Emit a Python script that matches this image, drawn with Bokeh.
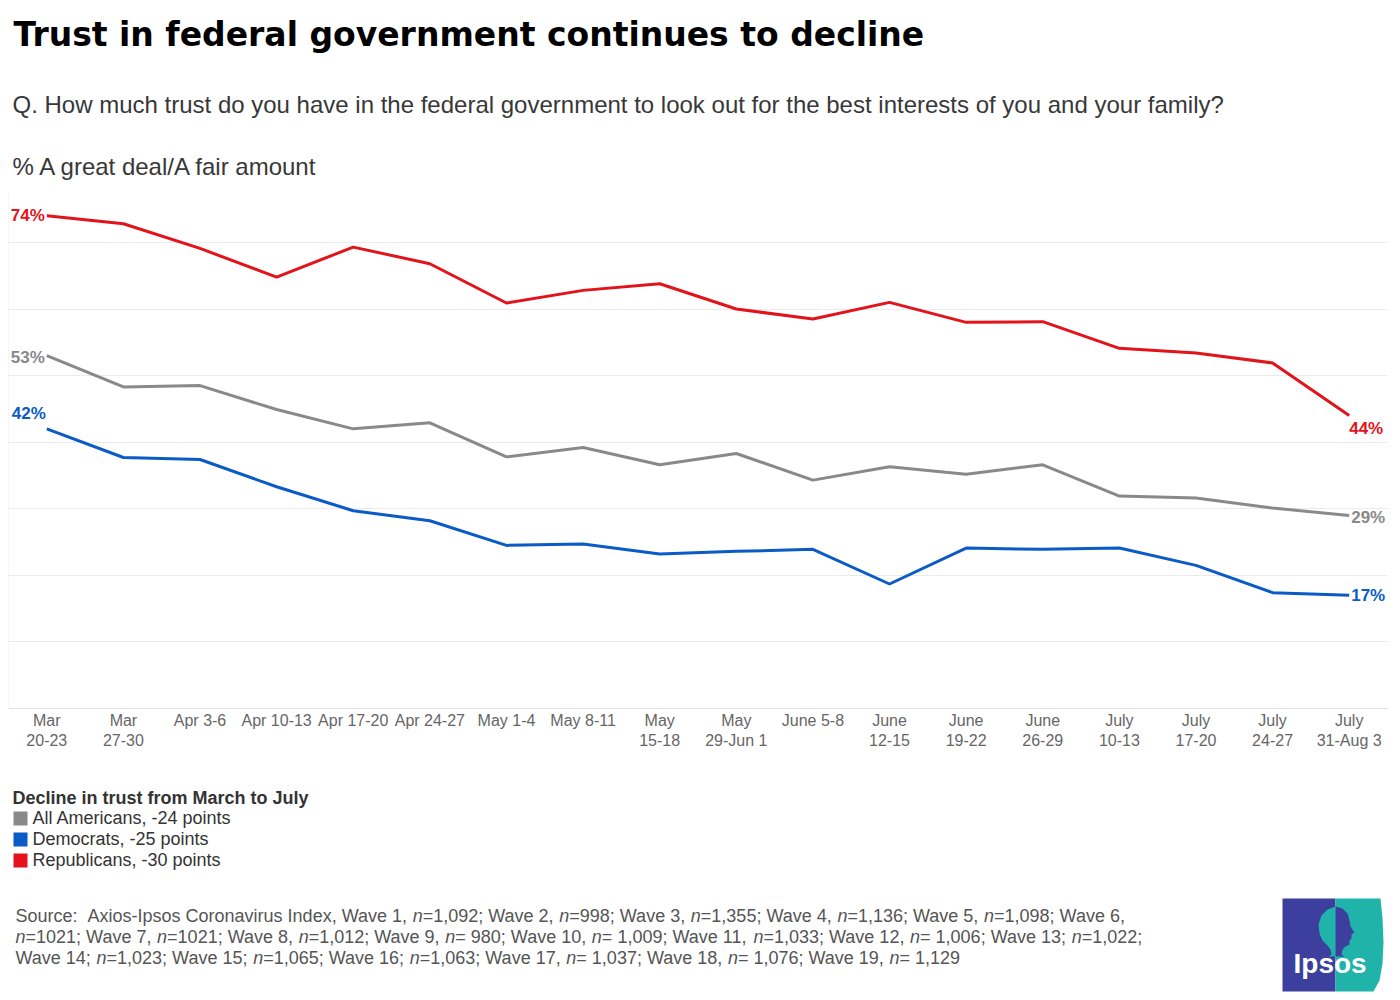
import re
from bokeh.plotting import figure
from bokeh.layouts import column
from bokeh.models import Range1d, FixedTicker, Span
from bokeh.core.properties import value
from bokeh.embed import file_html
from bokeh.resources import INLINE

# ---------------- data ----------------
waves = ["Mar\n20-23", "Mar\n27-30", "Apr 3-6", "Apr 10-13", "Apr 17-20", "Apr 24-27",
         "May 1-4", "May 8-11", "May\n15-18", "May\n29-Jun 1", "June 5-8", "June\n12-15",
         "June\n19-22", "June\n26-29", "July\n10-13", "July\n17-20", "July\n24-27",
         "July\n31-Aug 3"]
republicans = [74, 72.8, 69.1, 64.8, 69.3, 66.8, 60.9, 62.8, 63.8, 60.0, 58.5, 61.0,
               58.0, 58.1, 54.1, 53.4, 51.9, 44]
all_americans = [53, 48.3, 48.5, 44.9, 42.0, 42.9, 37.8, 39.2, 36.6, 38.3, 34.3, 36.3,
                 35.2, 36.6, 31.9, 31.6, 30.1, 29]
democrats = [42, 37.7, 37.4, 33.3, 29.7, 28.2, 24.5, 24.7, 23.2, 23.6, 23.9, 18.7,
             24.1, 23.9, 24.1, 21.5, 17.4, 17]
y_ticks = [0, 10, 20, 30, 40, 50, 60, 70]

legend_title = "Decline in trust from March to July"
legend_items = ["All Americans, -24 points", "Democrats, -25 points", "Republicans, -30 points"]

title_text = "Trust in federal government continues to decline"
subtitle_text = "Q. How much trust do you have in the federal government to look out for the best interests of you and your family?"
measure_text = "% A great deal/A fair amount"
source_lines = [
    "Source:  Axios-Ipsos Coronavirus Index, Wave 1, {n}=1,092; Wave 2, {n}=998; Wave 3, {n}=1,355; Wave 4, {n}=1,136; Wave 5, {n}=1,098; Wave 6,",
    "{n}=1021; Wave 7, {n}=1021; Wave 8, {n}=1,012; Wave 9, {n}= 980; Wave 10, {n}= 1,009; Wave 11, {n}=1,033; Wave 12, {n}= 1,006; Wave 13; {n}=1,022;",
    "Wave 14; {n}=1,023; Wave 15; {n}=1,065; Wave 16; {n}=1,063; Wave 17, {n}= 1,037; Wave 18, {n}= 1,076; Wave 19, {n}= 1,129",
]

# ---------------- style ----------------
RED = "#e3131b"
BLUE = "#0b5bc6"
GRAY = "#898989"
FONT = "Liberation Sans"
TOTAL_W = 1396
BORDER_L, BORDER_R = 8, 9
TOP_H, CHART_H, BOT_H = 184, 596, 216


def canvas_figure(h):
    # frame lines up with the chart frame (page x 8..1387); x range = page pixels
    f = figure(width=TOTAL_W, height=h, title=None,
               x_range=Range1d(BORDER_L, TOTAL_W - BORDER_R), y_range=Range1d(h, 0),
               output_backend="svg", toolbar_location=None,
               min_border_left=BORDER_L, min_border_right=BORDER_R,
               min_border_top=0, min_border_bottom=0)
    f.axis.visible = False
    f.grid.visible = False
    f.outline_line_color = None
    f.background_fill_color = "white"
    f.border_fill_color = "white"
    return f


def put_text(f, x, y, text, size, color, font=FONT, style="normal", align="left"):
    f.text(x=[x], y=[y], text=[text], text_font=value(font), text_font_size=size,
           text_color=color, text_font_style=style, text_baseline="middle",
           text_align=align)


# ---------------- header ----------------
top = canvas_figure(TOP_H)
put_text(top, 13, 33.7, title_text, "33px", "#000000", font="DejaVu Sans", style="bold")
put_text(top, 12, 103.5, subtitle_text, "24px", "#383838")
put_text(top, 12, 165.5, measure_text, "24px", "#383838")

# ---------------- chart ----------------
p = figure(width=TOTAL_W, height=CHART_H, title=None,
           x_range=Range1d(-0.5, len(waves) - 0.5),
           y_range=Range1d(0, 77.5), output_backend="svg", toolbar_location=None,
           min_border_left=BORDER_L, min_border_right=BORDER_R,
           min_border_top=8, min_border_bottom=72)
p.outline_line_color = None
p.background_fill_color = "white"
p.border_fill_color = "white"
p.yaxis.visible = False
p.xgrid.visible = False
p.ygrid.ticker = FixedTicker(ticks=y_ticks[1:])
p.ygrid.grid_line_color = "#ebebeb"
p.ygrid.grid_line_width = 1

ax = p.xaxis[0]
ax.ticker = FixedTicker(ticks=list(range(len(waves))))
ax.major_label_overrides = {i: w for i, w in enumerate(waves)}
ax.major_tick_line_color = None
ax.minor_tick_line_color = None
ax.major_tick_out = 0
ax.major_tick_in = 0
ax.axis_line_color = "#e2e2e2"
ax.major_label_standoff = 3
ax.major_label_text_font = FONT
ax.major_label_text_font_size = "16px"
ax.major_label_text_color = "#666666"

p.add_layout(Span(location=-0.5, dimension="height", line_color="#ebebeb", line_width=1))

xs = list(range(len(waves)))
for ys, col in [(all_americans, GRAY), (democrats, BLUE), (republicans, RED)]:
    p.line(xs, ys, line_color=col, line_width=3)


def end_label(i, series, col, align, xo, yo):
    p.text(x=[xs[i]], y=[series[i]], text=[f"{round(series[i])}%"], text_color=col,
           text_font=value(FONT), text_font_style="bold", text_font_size="17px",
           text_align=align, text_baseline="middle", x_offset=xo, y_offset=yo)


end_label(0, republicans, RED, "right", -2, 0)
end_label(0, all_americans, GRAY, "right", -2, 2)
end_label(0, democrats, BLUE, "right", -1, -15)
end_label(-1, republicans, RED, "left", 0, 13)
end_label(-1, all_americans, GRAY, "left", 2, 2)
end_label(-1, democrats, BLUE, "left", 2, 0)

# ---------------- legend, source, logo ----------------
bot = canvas_figure(BOT_H)
put_text(bot, 12, 17, legend_title, "18px", "#333333", style="bold")
for k, (txt, col) in enumerate(zip(legend_items, [GRAY, BLUE, RED])):
    y0 = 31 + 21 * k
    bot.quad(left=[13], right=[27], top=[y0], bottom=[y0 + 14], fill_color=col, line_color=None)
    put_text(bot, 32, 37.5 + 21 * k, txt, "18px", "#333333")

ARIAL = {' ': 278, ',': 278, ';': 278, ':': 278, '.': 278, '=': 584, '-': 333, '?': 556,
         'A': 667, 'C': 722, 'I': 278, 'S': 667, 'W': 944}
for d in "0123456789":
    ARIAL[d] = 556
for ch, w in zip("abcdefghijklmnopqrstuvwxyz",
                 [556, 556, 500, 556, 556, 278, 556, 556, 222, 222, 500, 222, 833,
                  556, 556, 556, 556, 333, 500, 278, 556, 500, 722, 500, 500, 500]):
    ARIAL[ch] = w
SRC_SIZE = 18


def tw(s):
    return sum(ARIAL.get(c, 556) for c in s) * SRC_SIZE / 1000.0


for li, line in enumerate(source_lines):
    x = 15.0
    y = 135 + 21 * li
    for part in re.split(r"(\{n\}|  )", line):
        if not part:
            continue
        if part == "{n}":
            put_text(bot, x, y, "n", f"{SRC_SIZE}px", "#555555", style="italic")
            x += tw("n")
        elif part == "  ":
            x += tw("  ")
        else:
            put_text(bot, x, y, part, f"{SRC_SIZE}px", "#555555")
            x += tw(part)

# Ipsos logo
LB, LT = "#3c3f9e", "#20b3aa"
bot.patch([1282, 1335, 1335, 1282], [118, 118, 211, 211], fill_color=LB, line_color=None)
bot.patch([1335, 1380, 1382, 1383, 1382, 1379, 1373, 1335],
          [118, 118, 138, 162, 183, 200, 211, 211], fill_color=LT, line_color=None)
bot.patch([1335, 1327, 1321, 1318, 1319, 1322, 1327, 1330, 1331, 1328, 1335],
          [126, 129, 135, 144, 153, 160, 165, 169, 174, 176, 176], fill_color=LT, line_color=None)
bot.patch([1335, 1342, 1347, 1349, 1350, 1354, 1351, 1351, 1349, 1349, 1345, 1342, 1341, 1344, 1335],
          [126, 128, 133, 140, 146, 152, 154, 158, 160, 164, 166, 169, 174, 176, 176],
          fill_color=LB, line_color=None)
put_text(bot, 1293, 182.5, "Ipsos", "28px", "#ffffff", style="bold")

layout = column(top, p, bot, spacing=0)
open("out.html", "w").write(file_html(layout, INLINE))
